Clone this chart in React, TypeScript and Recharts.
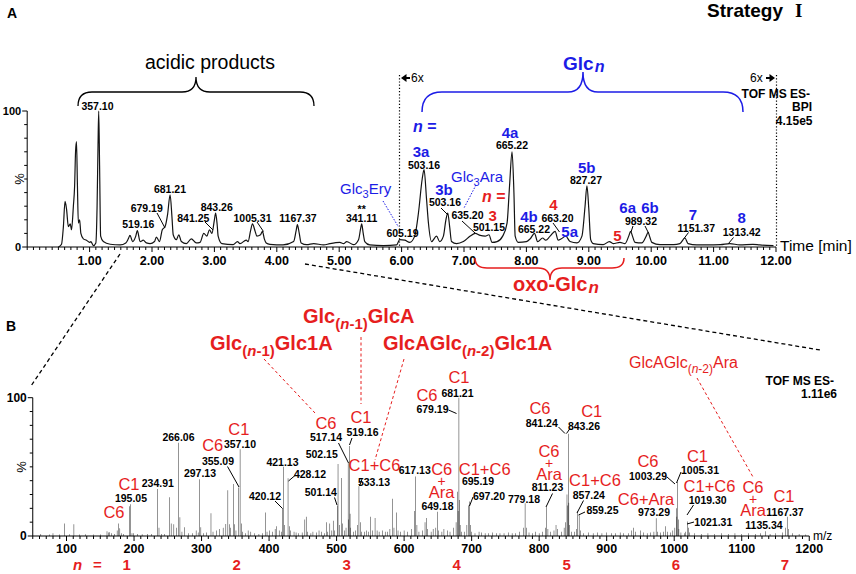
import React from "react";
import { LineChart, Line, BarChart, Bar, XAxis, YAxis } from "recharts";

const FONT = "'Liberation Sans', Arial, Helvetica, sans-serif";
const SERIF = "'Liberation Serif', 'Times New Roman', serif";
const BLUE = "#1c1ce6";
const RED = "#e61e1e";

// BPI chromatogram (retention time in min, % intensity)
const bpiTime = [
  0.5, 0.55, 0.58, 0.606, 0.63, 0.66, 0.69, 0.71, 0.74, 0.76, 0.775, 0.79, 0.805, 0.82, 0.84, 0.86, 0.9, 0.95,
  1.0, 1.02, 1.06, 1.1, 1.12, 1.135, 1.146, 1.16, 1.177, 1.22, 1.33, 1.49, 1.58, 1.62, 1.647, 1.69, 1.74, 1.765,
  1.81, 1.86, 1.91, 1.97, 2.04, 2.07, 2.12, 2.165, 2.21, 2.25, 2.29, 2.32, 2.34, 2.39, 2.43, 2.47, 2.55, 2.63,
  2.71, 2.77, 2.83, 2.88, 2.92, 2.96, 3.0, 3.02, 3.045, 3.06, 3.12, 3.3, 3.37, 3.41, 3.51, 3.54, 3.58, 3.61,
  3.65, 3.68, 3.74, 3.77, 3.8, 3.83, 3.89, 4.1, 4.27, 4.31, 4.33, 4.36, 4.39, 4.48, 4.59, 4.75, 4.85, 5.01,
  5.07, 5.12, 5.23, 5.31, 5.345, 5.36, 5.385, 5.41, 5.49, 5.71, 5.92, 5.97, 6.05, 6.13, 6.21, 6.27, 6.33, 6.36,
  6.4, 6.43, 6.48, 6.56, 6.61, 6.67, 6.71, 6.74, 6.77, 6.8, 6.88, 6.99, 7.1, 7.18, 7.26, 7.34, 7.4, 7.45,
  7.53, 7.62, 7.69, 7.73, 7.77, 7.8, 7.82, 7.87, 8.0, 8.06, 8.13, 8.18, 8.26, 8.31, 8.38, 8.46, 8.51, 8.56,
  8.63, 8.7, 8.81, 8.89, 8.94, 8.97, 9.0, 9.03, 9.07, 9.23, 9.33, 9.39, 9.5, 9.58, 9.64, 9.67, 9.7, 9.74,
  9.85, 9.92, 9.95, 9.98, 10.01, 10.14, 10.36, 10.46, 10.54, 10.59, 10.73, 10.89, 11.11, 11.26, 11.42, 11.63,
  11.74, 11.96,
];
const bpiIntensity = [
  0, 2, 15, 33.5, 28, 15, 17, 12.7, 30, 45, 70, 77.5, 45, 17.6, 20, 10, 6, 5,
  3.4, 4, 1, 3, 30, 75, 100, 60, 8, 4, 2, 1.5, 3, 6, 8.5, 4, 8, 12,
  4, 5, 3, 2.5, 4, 7.3, 4, 12.7, 15, 24, 38.4, 22, 9, 5.4, 9, 4, 2.5, 6,
  3, 3.4, 10, 8, 12.7, 10, 20, 25, 16, 8, 2.5, 1.7, 4, 2.5, 5, 4, 12, 17,
  12, 8, 9, 11.5, 6, 3, 2, 1.5, 4, 12, 16.4, 10, 3, 1.7, 2.5, 1.5, 2.5, 3.4,
  2.5, 4, 1.7, 5.4, 14, 17, 10, 4, 1.5, 1, 1.5, 5.4, 5, 3.4, 8, 25, 50, 57,
  35, 17.6, 4, 8, 4, 8, 20, 25, 15, 4, 2.5, 4, 8, 10, 8.5, 8, 9, 3.4,
  4, 8, 17.6, 45, 70, 40, 8, 3.4, 4, 6, 10, 4, 6.6, 5, 8, 11.5, 5, 6,
  8, 4, 3, 8, 30, 45, 28, 5.4, 2.5, 1.7, 4, 2.5, 3.4, 2.5, 8, 11.5, 8, 3.4,
  3, 8, 10.8, 7, 3.4, 1.7, 1.7, 2.5, 6.6, 2.5, 1.5, 1.5, 1.7, 2.5, 1.5, 2,
  1.5, 1,
];

// ESI- spectrum sticks (m/z, % intensity)
const specMz = [
  62, 75, 80, 90, 97, 104, 111, 119, 128, 140, 150, 160, 162, 164, 167, 171, 175, 177, 179, 181, 184,
  193.03, 195.05, 197, 199, 205, 212, 220, 226, 234.91, 237, 241, 245, 253, 255, 259, 263, 266.06, 268,
  271, 275, 281, 287, 292, 295, 297.13, 299, 303, 307, 314, 317, 322, 327, 332, 336, 339, 341, 343, 347,
  349, 351, 355.09, 357.1, 359, 361, 365, 369, 373, 378, 385, 390, 395, 397, 401, 405, 409, 411, 415, 418,
  420.12, 421.13, 423, 428.12, 430, 432, 437, 440, 444, 449, 453, 455, 457, 462, 465, 470, 474, 478, 482,
  485, 487, 490, 493, 495, 497, 501.14, 502.15, 504, 507, 509, 512, 514, 517.14, 518, 519.16, 520, 521,
  525, 528, 531, 533.13, 535, 537, 541, 544, 547, 550, 553, 557, 560, 563, 568, 572, 575, 579, 583, 585,
  589, 591, 595, 600, 605, 611, 615, 617.13, 619, 622, 627, 631, 633, 635, 640, 643, 647, 649.18, 651,
  656, 659, 664, 668, 673, 677, 679.19, 680, 681.21, 682, 683, 685, 689, 693, 695.19, 697.2, 698, 700,
  705, 711, 715, 720, 725, 731, 737, 742, 748, 755, 760, 765, 771, 777, 779.18, 781, 785, 790, 795, 800,
  805, 809, 811.23, 813, 817, 822, 825, 827, 833, 837, 839, 841.24, 842, 843.26, 844, 845, 848, 852, 855,
  857.24, 859.25, 861, 866, 873, 880, 886, 893, 900, 907, 913, 920, 925, 932, 937, 940, 943, 950, 955,
  960, 965, 970, 973.29, 975, 980, 984, 987, 990, 995, 998, 1001, 1003.29, 1004, 1005.31, 1006, 1007,
  1010, 1015, 1017, 1019.3, 1021.31, 1023, 1030, 1040, 1050, 1060, 1070, 1080, 1090, 1100, 1110, 1120,
  1128, 1135.34, 1142, 1150, 1160, 1165, 1167.37, 1169, 1175, 1185, 1195,
];
const specIntensity = [
  1.5, 1, 2, 1, 9, 1.2, 8.5, 1, 1.2, 1, 1, 3.5, 2.5, 2.7, 2, 1.5, 4, 9, 5.6, 2, 1.5,
  21.5, 23, 2, 2, 1.5, 1.2, 1.5, 1.5, 34, 6, 1.5, 1.5, 28, 9, 8.5, 6, 67.5, 13.5,
  3, 6.3, 2, 2, 4, 2.5, 41, 6.3, 2, 2.5, 16.4, 3, 4, 5, 6, 8.7, 33, 8.5, 6, 37.6,
  8.5, 4, 35, 62.7, 9, 3, 2, 4, 3, 2, 1.5, 2, 17, 3, 4, 3, 5, 7, 4, 3,
  20, 50, 8, 41.7, 7, 4, 3, 2.5, 2, 2.5, 12, 14, 3, 2, 3, 2.5, 4, 3, 2,
  10, 3, 9, 4, 11, 4, 22, 52, 8, 42, 9, 4, 6, 53, 12, 65, 16, 6,
  3, 4, 8, 36, 10, 3, 3, 4, 3, 14, 4, 13, 4, 3, 4, 3, 3, 5, 27, 6,
  17, 4, 3, 4, 3, 5, 18, 43, 8, 3, 4, 10, 13, 5, 3, 5, 6, 17.6, 4,
  3, 5, 4, 3, 6, 10, 32, 18, 100, 26, 8, 3, 3, 8, 22, 25, 8, 3,
  2, 3, 2.5, 2, 2, 2.5, 2, 2, 2, 2.5, 2, 2, 3, 6, 23.6, 6, 2.5, 2, 3, 2,
  3, 6, 21, 5, 3, 4, 8, 5, 3, 6, 10, 30, 22, 74, 24, 8, 3, 3, 5,
  18, 15, 4, 2, 2.5, 2, 2.5, 2, 2.5, 2, 2, 2.5, 2, 2, 4, 6, 3, 4, 2.5,
  2, 2.5, 3, 12.8, 3, 2.5, 3, 7, 3, 2.5, 4, 6, 20, 14, 39, 12, 5,
  2.5, 2, 3, 10.4, 6, 2.5, 2, 1.5, 2, 1.5, 2, 1.5, 2, 1.5, 2, 1.5,
  2, 3.5, 1.5, 2, 2.5, 6, 14, 5, 2, 1.5, 1,
];

const timeTicks = Array.from({ length: 121 }, (_, i) => i / 10);
const mzTicks = Array.from({ length: 116 }, (_, i) => 50 + i * 10);
const pctTicks = [0, 10, 20, 30, 40, 50, 60, 70, 80, 90, 100];

const bpiData = bpiTime.map((t, i) => ({ t, i: bpiIntensity[i] }));
const specData = specMz.map((mz, i) => ({ mz, i: specIntensity[i] }));

function TimeTick(props: any) {
  const { x, y, payload } = props;
  const v = Math.round(payload.value * 10) / 10;
  const major = Number.isInteger(v) && v >= 1;
  return (
    <g>
      <line x1={x} x2={x} y1={y} y2={y + (major ? 5 : 3)} stroke="#000" strokeWidth={1} />
      {major && (
        <text x={x} y={y + 18} textAnchor="middle" fontSize={12.5} fontWeight="bold" fontFamily={FONT} fill="#000">
          {v.toFixed(2)}
        </text>
      )}
    </g>
  );
}

function MzTick(props: any) {
  const { x, y, payload } = props;
  const v = payload.value;
  const major = v % 100 === 0;
  return (
    <g>
      <line x1={x} x2={x} y1={y} y2={y + (major ? 5 : 3)} stroke="#000" strokeWidth={1} />
      {major && (
        <text x={x} y={y + 17} textAnchor="middle" fontSize={12.5} fontWeight="bold" fontFamily={FONT} fill="#000">
          {v}
        </text>
      )}
    </g>
  );
}

function pctTick(size: number) {
  return (props: any) => {
    const { x, y, payload } = props;
    const v = payload.value;
    const major = v === 0 || v === 100;
    return (
      <g>
        <line x1={x} x2={x - (major ? 5 : 3)} y1={y} y2={y} stroke="#000" strokeWidth={1} />
        {major && (
          <text x={x - 6} y={y + 4} textAnchor="end" fontSize={size} fontWeight="bold" fontFamily={FONT} fill="#000">
            {v}
          </text>
        )}
      </g>
    );
  };
}

const Num = ({ x, y, children }: any) => (
  <text x={x} y={y} textAnchor="middle" fontSize={10.5} fontWeight="bold" fill="#000">
    {children}
  </text>
);
const BlueTag = ({ x, y, children }: any) => (
  <text x={x} y={y} textAnchor="middle" fontSize={15} fontWeight="bold" fill={BLUE}>
    {children}
  </text>
);
const RedNum = ({ x, y, children }: any) => (
  <text x={x} y={y} textAnchor="middle" fontSize={15} fontWeight="bold" fill={RED}>
    {children}
  </text>
);
const CTag = ({ x, y, size = 16.5, children }: any) => (
  <text x={x} y={y} textAnchor="middle" fontSize={size} fill={RED}>
    {children}
  </text>
);
// stacked "C6 / + / Ara"
const AraTag = ({ x, y }: any) => (
  <g>
    <CTag x={x} y={y}>C6</CTag>
    <CTag x={x} y={y + 11} size={14}>+</CTag>
    <CTag x={x} y={y + 23}>Ara</CTag>
  </g>
);
const Lead = ({ p, color = "#000", dash }: any) => (
  <line x1={p[0]} y1={p[1]} x2={p[2]} y2={p[3]} stroke={color} strokeWidth={1} strokeDasharray={dash} />
);

function Overlay() {
  return (
    <svg
      width={856}
      height={574}
      style={{ position: "absolute", left: 0, top: 0, pointerEvents: "none" }}
      fontFamily={FONT}
    >
      {/* panel A headings */}
      <text x={7} y={18} fontSize={14} fontWeight="bold">A</text>
      <text x={707} y={17} fontSize={19} fontWeight="bold">Strategy</text>
      <text x={795} y={17} fontSize={19} fontWeight="bold" fontFamily={SERIF}>I</text>

      <text x={210} y={68.5} textAnchor="middle" fontSize={19.5}>acidic products</text>
      <path d="M78,106 Q78,92 92,92 L182,92 Q196,92 196,77 Q196,92 210,92 L300,92 Q314,92 314,106" fill="none" stroke="#000" strokeWidth={1.3} />

      <text x={563} y={70} fontSize={19} fontWeight="bold" fill={BLUE}>
        Glc<tspan fontStyle="italic" fontSize={16} dx={1} dy={2}>n</tspan>
      </text>
      <path d="M422,112 Q422,92 442,92 L568,92 Q583,92 583,72 Q583,92 598,92 L723,92 Q743,92 743,112" fill="none" stroke={BLUE} strokeWidth={1.5} />

      {/* 6x zoom markers */}
      <line x1={399.5} y1={75} x2={399.5} y2={247} stroke="#000" strokeWidth={1.2} strokeDasharray="1.2 2" />
      <line x1={776.5} y1={75} x2={776.5} y2={247} stroke="#000" strokeWidth={1.2} strokeDasharray="1.2 2" />
      <polygon points="401,78 406.5,74 406.5,82" fill="#000" />
      <rect x={406} y={77} width={4} height={2} fill="#000" />
      <text x={411} y={82} fontSize={12}>6x</text>
      <polygon points="775,78 769.5,74 769.5,82" fill="#000" />
      <rect x={766} y={77} width={4} height={2} fill="#000" />
      <text x={750} y={82} fontSize={12}>6x</text>
      <text x={810} y={97.5} textAnchor="end" fontSize={12} fontWeight="bold">TOF MS ES-</text>
      <text x={812} y={111} textAnchor="end" fontSize={12} fontWeight="bold">BPI</text>
      <text x={812.5} y={125} textAnchor="end" fontSize={12} fontWeight="bold">4.15e5</text>

      <g transform="translate(19,179) rotate(-90)">
        <text x={0} y={4.5} textAnchor="middle" fontSize={13}>%</text>
      </g>
      <text x={780} y={251} fontSize={15.5}>Time [min]</text>

      {/* acidic region peak labels */}
      <Num x={97.5} y={109.5}>357.10</Num>
      <Num x={138.3} y={228}>519.16</Num>
      <Num x={146.7} y={211.5}>679.19</Num>
      <Lead p={[157, 213, 165, 228]} />
      <Num x={170} y={192.5}>681.21</Num>
      <Num x={193.3} y={221.5}>841.25</Num>
      <Lead p={[205, 222, 213, 230]} />
      <Num x={216.7} y={211}>843.26</Num>
      <Num x={252.5} y={221.5}>1005.31</Num>
      <Lead p={[257, 222, 263.5, 231.5]} />
      <Num x={298} y={221.5}>1167.37</Num>
      <Num x={361.7} y={213}>**</Num>
      <Num x={361.7} y={221.5}>341.11</Num>
      <text x={340} y={193.5} fontSize={15} fill={BLUE}>
        Glc<tspan fontSize={11} dy={4}>3</tspan><tspan dy={-4}>Ery</tspan>
      </text>
      <Lead p={[383, 201, 398.5, 227]} color={BLUE} dash="1.5 1.5" />
      <Num x={402.5} y={236.5}>605.19</Num>

      {/* Glc_n series */}
      <text x={413} y={132} fontSize={16} fontWeight="bold" fill={BLUE}>
        <tspan fontStyle="italic">n</tspan> =
      </text>
      <BlueTag x={421} y={157}>3a</BlueTag>
      <Num x={424} y={169}>503.16</Num>
      <BlueTag x={444} y={195}>3b</BlueTag>
      <Num x={445} y={206}>503.16</Num>
      <Lead p={[441, 208, 448, 215]} />
      <text x={451} y={181.5} fontSize={15} fill={BLUE}>
        Glc<tspan fontSize={11} dy={4}>3</tspan><tspan dy={-4}>Ara</tspan>
      </text>
      <Lead p={[476, 185, 464, 208]} color={BLUE} dash="1.5 1.5" />
      <Num x={467.5} y={219}>635.20</Num>
      <Lead p={[462, 221, 475, 233]} />
      <text x={482} y={202} fontSize={16} fontWeight="bold" fill={RED}>
        <tspan fontStyle="italic">n</tspan> =
      </text>
      <RedNum x={492.7} y={221}>3</RedNum>
      <Num x={489} y={230.5}>501.15</Num>
      <BlueTag x={510} y={138}>4a</BlueTag>
      <Num x={512} y={149}>665.22</Num>
      <BlueTag x={529} y={221.5}>4b</BlueTag>
      <Num x={534} y={233}>665.22</Num>
      <RedNum x={553.3} y={210}>4</RedNum>
      <Num x={557.5} y={221.5}>663.20</Num>
      <Lead p={[553, 223, 559.5, 232]} />
      <BlueTag x={569.7} y={236.5}>5a</BlueTag>
      <BlueTag x={586.7} y={172.5}>5b</BlueTag>
      <Num x={586} y={184}>827.27</Num>
      <RedNum x={617.5} y={240.5}>5</RedNum>
      <BlueTag x={627.7} y={213}>6a</BlueTag>
      <BlueTag x={650} y={213}>6b</BlueTag>
      <Num x={641} y={225}>989.32</Num>
      <Lead p={[633, 226, 631, 232]} />
      <Lead p={[645, 226, 648.5, 233]} />
      <BlueTag x={693} y={220}>7</BlueTag>
      <Num x={696.3} y={231.5}>1151.37</Num>
      <Lead p={[688.5, 232.5, 684, 238.5]} />
      <BlueTag x={741.7} y={223}>8</BlueTag>
      <Num x={741.7} y={236}>1313.42</Num>
      <Lead p={[733.5, 237.5, 728.5, 243.5]} />

      {/* oxo-Glc_n brace */}
      <path d="M475,258 Q475,268 487,268 L538,268 Q550,268 550,280 Q550,268 562,268 L612,268 Q624,268 624,258" fill="none" stroke={RED} strokeWidth={1.5} />
      <text x={513} y={291} fontSize={20} fontWeight="bold" fill={RED}>
        oxo-Glc<tspan fontStyle="italic" fontSize={17} dx={1} dy={2}>n</tspan>
      </text>

      {/* zoom lines from A to B */}
      <line x1={120} y1={254} x2={31} y2={386} stroke="#000" strokeWidth={1.3} strokeDasharray="4 3" />
      <line x1={305} y1={264} x2={820} y2={350} stroke="#000" strokeWidth={1.3} strokeDasharray="4 3" />

      {/* panel B headings */}
      <text x={6} y={330.5} fontSize={14} fontWeight="bold">B</text>
      <text x={303} y={323} fontSize={20} fontWeight="bold" fill={RED}>
        Glc<tspan fontSize={15} dy={6}>(<tspan fontStyle="italic">n</tspan>-1)</tspan><tspan dy={-6}>GlcA</tspan>
      </text>
      <text x={210} y={350} fontSize={20} fontWeight="bold" fill={RED}>
        Glc<tspan fontSize={15} dy={6}>(<tspan fontStyle="italic">n</tspan>-1)</tspan><tspan dy={-6}>Glc1A</tspan>
      </text>
      <text x={383} y={350} fontSize={20} fontWeight="bold" fill={RED}>
        GlcAGlc<tspan fontSize={15} dy={6}>(<tspan fontStyle="italic">n</tspan>-2)</tspan><tspan dy={-6}>Glc1A</tspan>
      </text>
      <text x={629} y={368} fontSize={16} fill={RED}>
        GlcAGlc<tspan fontSize={12} dy={5}>(<tspan fontStyle="italic">n</tspan>-2)</tspan><tspan dy={-5}>Ara</tspan>
      </text>
      <Lead p={[264, 359, 315, 413]} color={RED} dash="3 2.5" />
      <Lead p={[361, 337, 361, 404]} color={RED} dash="3 2.5" />
      <Lead p={[404, 359, 375, 460]} color={RED} dash="3 2.5" />
      <Lead p={[697, 378, 753, 477]} color={RED} dash="3 2.5" />

      <text x={834} y={385} textAnchor="end" fontSize={12} fontWeight="bold">TOF MS ES-</text>
      <text x={837} y={398} textAnchor="end" fontSize={12} fontWeight="bold">1.11e6</text>
      <g transform="translate(21.7,467) rotate(-90)">
        <text x={0} y={4.5} textAnchor="middle" fontSize={13}>%</text>
      </g>
      <text x={813} y={540} fontSize={12}>m/z</text>

      {/* n = 1 */}
      <CTag x={114} y={517.5}>C6</CTag>
      <CTag x={129} y={490}>C1</CTag>
      <Num x={131} y={501.5}>195.05</Num>
      <Num x={157.8} y={487}>234.91</Num>
      <Num x={178.5} y={440.5}>266.06</Num>
      <Num x={200} y={476.5}>297.13</Num>
      {/* n = 2 */}
      <CTag x={212.7} y={451}>C6</CTag>
      <CTag x={238.8} y={435}>C1</CTag>
      <Num x={218} y={464.5}>355.09</Num>
      <Lead p={[227.5, 466.5, 239, 487]} />
      <Num x={240} y={447.5}>357.10</Num>
      <Num x={265} y={499.5}>420.12</Num>
      <Lead p={[275, 501, 282.5, 508.5]} />
      <Num x={282.5} y={465.5}>421.13</Num>
      <Num x={310} y={478}>428.12</Num>
      <Lead p={[295, 475.5, 288.5, 481]} />
      {/* n = 3 */}
      <CTag x={326} y={429}>C6</CTag>
      <CTag x={361} y={423}>C1</CTag>
      <Num x={326} y={441}>517.14</Num>
      <Lead p={[338.5, 443, 348.5, 463]} />
      <Num x={362.5} y={435.5}>519.16</Num>
      <Lead p={[352, 438, 349.5, 445]} />
      <Num x={321.7} y={458}>502.15</Num>
      <Num x={320.8} y={495.5}>501.14</Num>
      <Lead p={[334.5, 497.5, 337, 505]} />
      <CTag x={374.5} y={471}>C1+C6</CTag>
      <Num x={374} y={485.5}>533.13</Num>
      <Lead p={[362, 479, 359.5, 486]} />
      <Num x={414.7} y={474}>617.13</Num>
      {/* n = 4 */}
      <CTag x={427} y={400.5}>C6</CTag>
      <CTag x={459} y={383}>C1</CTag>
      <Num x={432.5} y={413}>679.19</Num>
      <Lead p={[448.5, 410, 456.5, 413.5]} />
      <Num x={457.5} y={396.5}>681.21</Num>
      <AraTag x={441.7} y={475} />
      <Num x={437.5} y={510}>649.18</Num>
      <CTag x={484.7} y={475}>C1+C6</CTag>
      <Num x={478} y={485}>695.19</Num>
      <Num x={489} y={499.5}>697.20</Num>
      <Lead p={[473, 497, 469.5, 506]} />
      <Num x={524} y={503}>779.18</Num>
      {/* n = 5 */}
      <CTag x={540} y={414}>C6</CTag>
      <CTag x={591.7} y={416.5}>C1</CTag>
      <Num x={541.7} y={427}>841.24</Num>
      <Lead p={[558.5, 427, 565, 433.5]} />
      <Num x={584} y={430}>843.26</Num>
      <Lead p={[570, 428.5, 566.5, 433.5]} />
      <AraTag x={549} y={457} />
      <Num x={547.5} y={491}>811.23</Num>
      <Lead p={[552.5, 493.5, 546, 507]} />
      <CTag x={595} y={486}>C1+C6</CTag>
      <Num x={588.8} y={499}>857.24</Num>
      <Lead p={[583.5, 500.5, 577, 513]} />
      <Num x={602.5} y={514}>859.25</Num>
      <Lead p={[585, 512, 578.5, 515]} />
      {/* n = 6 */}
      <CTag x={648} y={466.5}>C6</CTag>
      <CTag x={697.5} y={461.5}>C1</CTag>
      <Num x={648} y={480}>1003.29</Num>
      <Lead p={[667, 477, 675, 484]} />
      <Num x={700} y={474}>1005.31</Num>
      <Lead p={[681, 472, 676.5, 483]} />
      <CTag x={646} y={505}>C6+Ara</CTag>
      <Num x={654} y={516}>973.29</Num>
      <CTag x={709.5} y={492}>C1+C6</CTag>
      <Num x={707.7} y={504}>1019.30</Num>
      <Lead p={[693.5, 505, 687, 515]} />
      <Num x={713.3} y={525.5}>1021.31</Num>
      <Lead p={[694, 522, 687, 524]} />
      {/* n = 7 */}
      <AraTag x={753} y={493} />
      <CTag x={784} y={502}>C1</CTag>
      <Num x={785} y={515.5}>1167.37</Num>
      <Num x={764} y={529}>1135.34</Num>

      <text x={73} y={570} fontSize={15} fontWeight="bold" fill={RED}>
        <tspan fontStyle="italic">n</tspan>
        <tspan x={93}>=</tspan>
      </text>
      <RedNum x={126.7} y={570}>1</RedNum>
      <RedNum x={236.7} y={570}>2</RedNum>
      <RedNum x={346.7} y={570}>3</RedNum>
      <RedNum x={456.7} y={570}>4</RedNum>
      <RedNum x={566.7} y={570}>5</RedNum>
      <RedNum x={676} y={570}>6</RedNum>
      <RedNum x={785} y={570}>7</RedNum>
    </svg>
  );
}

export default function App() {
  return (
    <div style={{ position: "relative", width: 856, height: 574, background: "#fff", fontFamily: FONT }}>
      <style>{"body{margin:0}"}</style>
      <div style={{ position: "absolute", left: 0, top: 0 }}>
        <LineChart width={856} height={290} data={bpiData} margin={{ top: 111, right: 80, bottom: 0, left: 0 }}>
          <XAxis
            type="number"
            dataKey="t"
            domain={[0, 12]}
            ticks={timeTicks}
            interval={0}
            height={43}
            tickSize={0}
            tickMargin={0}
            tickLine={false}
            tick={(p: any) => <TimeTick {...p} />}
            axisLine={{ stroke: "#000" }}
            allowDataOverflow
          />
          <YAxis
            type="number"
            domain={[0, 100]}
            ticks={pctTicks}
            interval={0}
            width={27.2}
            tickSize={0}
            tickMargin={0}
            tickLine={false}
            tick={pctTick(11)}
            axisLine={{ stroke: "#000" }}
          />
          <Line
            dataKey="i"
            type="monotone"
            dot={false}
            stroke="#141414"
            strokeWidth={1.2}
            isAnimationActive={false}
          />
        </LineChart>
      </div>
      <div style={{ position: "absolute", left: 0, top: 290 }}>
        <BarChart width={856} height={284} data={specData} margin={{ top: 107.7, right: 46.75, bottom: 0, left: 0 }}>
          <XAxis
            type="number"
            dataKey="mz"
            domain={[50, 1200]}
            ticks={mzTicks}
            interval={0}
            height={38}
            tickSize={0}
            tickMargin={0}
            tickLine={false}
            tick={(p: any) => <MzTick {...p} />}
            axisLine={{ stroke: "#000" }}
            allowDataOverflow
          />
          <YAxis
            type="number"
            domain={[0, 100]}
            ticks={pctTicks}
            interval={0}
            width={32.75}
            tickSize={0}
            tickMargin={0}
            tickLine={false}
            tick={pctTick(12)}
            axisLine={{ stroke: "#000" }}
          />
          <Bar dataKey="i" fill="#000" barSize={1.6} isAnimationActive={false} />
        </BarChart>
      </div>
      <Overlay />
    </div>
  );
}
